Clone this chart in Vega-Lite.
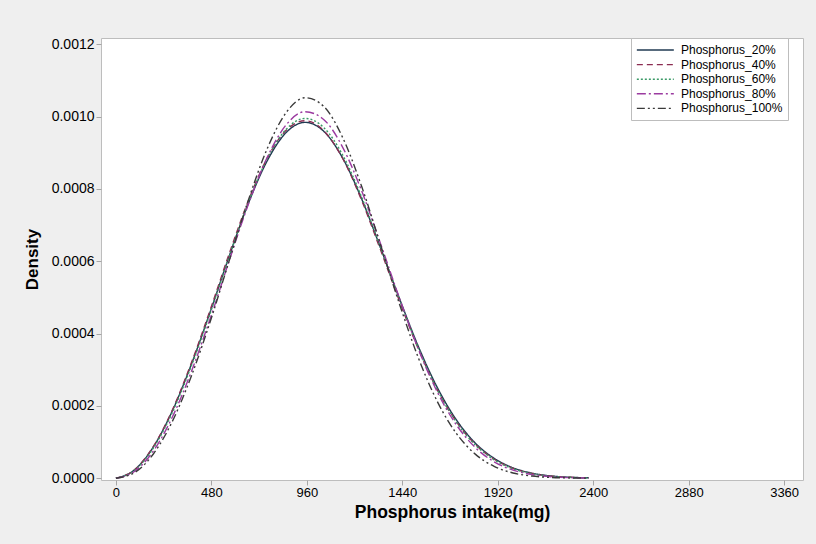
{
  "$schema": "https://vega.github.io/schema/vega-lite/v6.json",
  "width": 702,
  "height": 442,
  "autosize": {"type": "none"},
  "padding": {"left": 101, "top": 38, "right": 13, "bottom": 64},
  "background": "#efefef",
  "view": {"fill": "#ffffff", "stroke": "#bdbdbd", "strokeWidth": 1},
  "datasets": {
    "curves": [
      {"s":"Phosphorus_20%","x":0,"d":0},{"s":"Phosphorus_20%","x":95,"d":0.0000237},{"s":"Phosphorus_20%","x":190,"d":0.0000881},{"s":"Phosphorus_20%","x":285,"d":0.0001878},{"s":"Phosphorus_20%","x":380,"d":0.0003159},{"s":"Phosphorus_20%","x":476,"d":0.0004631},{"s":"Phosphorus_20%","x":571,"d":0.0006163},{"s":"Phosphorus_20%","x":666,"d":0.00076},{"s":"Phosphorus_20%","x":761,"d":0.000878},{"s":"Phosphorus_20%","x":856,"d":0.000956},{"s":"Phosphorus_20%","x":951,"d":0.0009842},{"s":"Phosphorus_20%","x":1046,"d":0.000959},{"s":"Phosphorus_20%","x":1141,"d":0.0008846},{"s":"Phosphorus_20%","x":1236,"d":0.000772},{"s":"Phosphorus_20%","x":1331,"d":0.0006365},{"s":"Phosphorus_20%","x":1427,"d":0.0004952},{"s":"Phosphorus_20%","x":1522,"d":0.0003628},{"s":"Phosphorus_20%","x":1617,"d":0.0002498},{"s":"Phosphorus_20%","x":1712,"d":0.0001613},{"s":"Phosphorus_20%","x":1807,"d":0.0000974},{"s":"Phosphorus_20%","x":1902,"d":0.000055},{"s":"Phosphorus_20%","x":1997,"d":0.0000288},{"s":"Phosphorus_20%","x":2092,"d":0.000014},{"s":"Phosphorus_20%","x":2187,"d":0.0000063},{"s":"Phosphorus_20%","x":2282,"d":0.0000026},{"s":"Phosphorus_20%","x":2378,"d":0.000001},
      {"s":"Phosphorus_40%","x":0,"d":0},{"s":"Phosphorus_40%","x":95,"d":0.000024},{"s":"Phosphorus_40%","x":190,"d":0.0000892},{"s":"Phosphorus_40%","x":285,"d":0.0001901},{"s":"Phosphorus_40%","x":380,"d":0.0003197},{"s":"Phosphorus_40%","x":476,"d":0.0004684},{"s":"Phosphorus_40%","x":571,"d":0.0006229},{"s":"Phosphorus_40%","x":666,"d":0.0007673},{"s":"Phosphorus_40%","x":761,"d":0.0008853},{"s":"Phosphorus_40%","x":856,"d":0.0009623},{"s":"Phosphorus_40%","x":951,"d":0.0009885},{"s":"Phosphorus_40%","x":1046,"d":0.0009607},{"s":"Phosphorus_40%","x":1141,"d":0.0008835},{"s":"Phosphorus_40%","x":1236,"d":0.0007682},{"s":"Phosphorus_40%","x":1331,"d":0.0006308},{"s":"Phosphorus_40%","x":1427,"d":0.0004884},{"s":"Phosphorus_40%","x":1522,"d":0.0003559},{"s":"Phosphorus_40%","x":1617,"d":0.0002436},{"s":"Phosphorus_40%","x":1712,"d":0.0001562},{"s":"Phosphorus_40%","x":1807,"d":0.0000936},{"s":"Phosphorus_40%","x":1902,"d":0.0000524},{"s":"Phosphorus_40%","x":1997,"d":0.0000272},{"s":"Phosphorus_40%","x":2092,"d":0.0000131},{"s":"Phosphorus_40%","x":2187,"d":0.0000059},{"s":"Phosphorus_40%","x":2282,"d":0.0000024},{"s":"Phosphorus_40%","x":2378,"d":0.0000009},
      {"s":"Phosphorus_60%","x":0,"d":0},{"s":"Phosphorus_60%","x":95,"d":0.0000224},{"s":"Phosphorus_60%","x":190,"d":0.0000849},{"s":"Phosphorus_60%","x":285,"d":0.0001834},{"s":"Phosphorus_60%","x":380,"d":0.0003114},{"s":"Phosphorus_60%","x":476,"d":0.0004597},{"s":"Phosphorus_60%","x":571,"d":0.0006154},{"s":"Phosphorus_60%","x":666,"d":0.0007625},{"s":"Phosphorus_60%","x":761,"d":0.0008841},{"s":"Phosphorus_60%","x":856,"d":0.0009651},{"s":"Phosphorus_60%","x":951,"d":0.000995},{"s":"Phosphorus_60%","x":1046,"d":0.0009695},{"s":"Phosphorus_60%","x":1141,"d":0.0008931},{"s":"Phosphorus_60%","x":1236,"d":0.0007771},{"s":"Phosphorus_60%","x":1331,"d":0.0006376},{"s":"Phosphorus_60%","x":1427,"d":0.0004927},{"s":"Phosphorus_60%","x":1522,"d":0.0003577},{"s":"Phosphorus_60%","x":1617,"d":0.0002435},{"s":"Phosphorus_60%","x":1712,"d":0.000155},{"s":"Phosphorus_60%","x":1807,"d":0.0000919},{"s":"Phosphorus_60%","x":1902,"d":0.0000508},{"s":"Phosphorus_60%","x":1997,"d":0.000026},{"s":"Phosphorus_60%","x":2092,"d":0.0000123},{"s":"Phosphorus_60%","x":2187,"d":0.0000054},{"s":"Phosphorus_60%","x":2282,"d":0.0000022},{"s":"Phosphorus_60%","x":2378,"d":0.0000008},
      {"s":"Phosphorus_80%","x":0,"d":0},{"s":"Phosphorus_80%","x":95,"d":0.0000193},{"s":"Phosphorus_80%","x":190,"d":0.0000767},{"s":"Phosphorus_80%","x":285,"d":0.0001705},{"s":"Phosphorus_80%","x":380,"d":0.0002959},{"s":"Phosphorus_80%","x":476,"d":0.0004445},{"s":"Phosphorus_80%","x":571,"d":0.0006038},{"s":"Phosphorus_80%","x":666,"d":0.0007575},{"s":"Phosphorus_80%","x":761,"d":0.0008876},{"s":"Phosphorus_80%","x":856,"d":0.0009772},{"s":"Phosphorus_80%","x":951,"d":0.0010137},{"s":"Phosphorus_80%","x":1046,"d":0.0009916},{"s":"Phosphorus_80%","x":1141,"d":0.0009145},{"s":"Phosphorus_80%","x":1236,"d":0.0007942},{"s":"Phosphorus_80%","x":1331,"d":0.0006481},{"s":"Phosphorus_80%","x":1427,"d":0.0004961},{"s":"Phosphorus_80%","x":1522,"d":0.0003553},{"s":"Phosphorus_80%","x":1617,"d":0.0002373},{"s":"Phosphorus_80%","x":1712,"d":0.0001474},{"s":"Phosphorus_80%","x":1807,"d":0.0000849},{"s":"Phosphorus_80%","x":1902,"d":0.0000452},{"s":"Phosphorus_80%","x":1997,"d":0.0000222},{"s":"Phosphorus_80%","x":2092,"d":0.00001},{"s":"Phosphorus_80%","x":2187,"d":0.0000041},{"s":"Phosphorus_80%","x":2282,"d":0.0000016},{"s":"Phosphorus_80%","x":2378,"d":0.0000005},
      {"s":"Phosphorus_100%","x":0,"d":0},{"s":"Phosphorus_100%","x":95,"d":0.000016},{"s":"Phosphorus_100%","x":190,"d":0.0000684},{"s":"Phosphorus_100%","x":285,"d":0.0001586},{"s":"Phosphorus_100%","x":380,"d":0.0002835},{"s":"Phosphorus_100%","x":476,"d":0.0004362},{"s":"Phosphorus_100%","x":571,"d":0.0006039},{"s":"Phosphorus_100%","x":666,"d":0.0007691},{"s":"Phosphorus_100%","x":761,"d":0.0009116},{"s":"Phosphorus_100%","x":856,"d":0.0010112},{"s":"Phosphorus_100%","x":951,"d":0.0010524},{"s":"Phosphorus_100%","x":1046,"d":0.0010279},{"s":"Phosphorus_100%","x":1141,"d":0.0009412},{"s":"Phosphorus_100%","x":1236,"d":0.0008065},{"s":"Phosphorus_100%","x":1331,"d":0.0006449},{"s":"Phosphorus_100%","x":1427,"d":0.0004799},{"s":"Phosphorus_100%","x":1522,"d":0.0003311},{"s":"Phosphorus_100%","x":1617,"d":0.0002111},{"s":"Phosphorus_100%","x":1712,"d":0.0001238},{"s":"Phosphorus_100%","x":1807,"d":0.0000665},{"s":"Phosphorus_100%","x":1902,"d":0.0000326},{"s":"Phosphorus_100%","x":1997,"d":0.0000145},{"s":"Phosphorus_100%","x":2092,"d":0.0000059},{"s":"Phosphorus_100%","x":2187,"d":0.0000021},{"s":"Phosphorus_100%","x":2282,"d":0.0000007},{"s":"Phosphorus_100%","x":2378,"d":0.0000002}
    ]
  },
  "data": {"name": "curves"},
  "mark": {"type": "line", "interpolate": "monotone", "strokeWidth": 1.4, "clip": true},
  "encoding": {
    "x": {
      "field": "x", "type": "quantitative",
      "scale": {"domain": [-75, 3455], "nice": false, "zero": false},
      "axis": {
        "values": [0, 480, 960, 1440, 1920, 2400, 2880, 3360],
        "format": "d",
        "title": "Phosphorus intake(mg)",
        "grid": false, "domain": false,
        "tickColor": "#a6a6a6", "tickSize": 5,
        "labelFont": "Liberation Sans", "labelFontSize": 13, "labelColor": "#000000", "labelPadding": 1,
        "titleFont": "Liberation Sans", "titleFontSize": 17.5, "titleFontWeight": "bold", "titleColor": "#000000", "titlePadding": 4
      }
    },
    "y": {
      "field": "d", "type": "quantitative",
      "scale": {"domain": [-0.000005, 0.0012175], "nice": false, "zero": false},
      "axis": {
        "values": [0, 0.0002, 0.0004, 0.0006, 0.0008, 0.001, 0.0012],
        "format": ".4f",
        "title": "Density",
        "grid": false, "domain": false,
        "tickColor": "#a6a6a6", "tickSize": 5,
        "labelFont": "Liberation Sans", "labelFontSize": 14, "labelColor": "#000000", "labelPadding": 2,
        "titleFont": "Liberation Sans", "titleFontSize": 17, "titleFontWeight": "bold", "titleColor": "#000000", "titlePadding": 10
      }
    },
    "color": {
      "field": "s", "type": "nominal",
      "scale": {
        "domain": ["Phosphorus_20%", "Phosphorus_40%", "Phosphorus_60%", "Phosphorus_80%", "Phosphorus_100%"],
        "range": ["#203a52", "#8c2d52", "#3a9a66", "#9b3ba0", "#3a3a3a"]
      },
      "legend": {
        "title": null, "orient": "none", "legendX": 530, "legendY": 0,
        "fillColor": "#ffffff", "strokeColor": "#bdbdbd", "padding": 5,
        "symbolType": "M-1,0H5", "symbolSize": 152, "symbolStrokeWidth": 1.4,
        "labelOffset": 31, "labelFont": "Liberation Sans", "labelFontSize": 12, "labelColor": "#000000", "rowPadding": 1.6
      }
    },
    "strokeDash": {
      "field": "s", "type": "nominal",
      "scale": {
        "domain": ["Phosphorus_20%", "Phosphorus_40%", "Phosphorus_60%", "Phosphorus_80%", "Phosphorus_100%"],
        "range": [[1, 0], [6, 4], [2, 2], [9, 3, 2, 3], [8, 3, 2, 3, 2, 3]]
      },
      "legend": {
        "title": null, "orient": "none", "legendX": 530, "legendY": 0,
        "fillColor": "#ffffff", "strokeColor": "#bdbdbd", "padding": 5,
        "symbolType": "M-1,0H5", "symbolSize": 152, "symbolStrokeWidth": 1.4,
        "labelOffset": 31, "labelFont": "Liberation Sans", "labelFontSize": 12, "labelColor": "#000000", "rowPadding": 1.6
      }
    }
  }
}
